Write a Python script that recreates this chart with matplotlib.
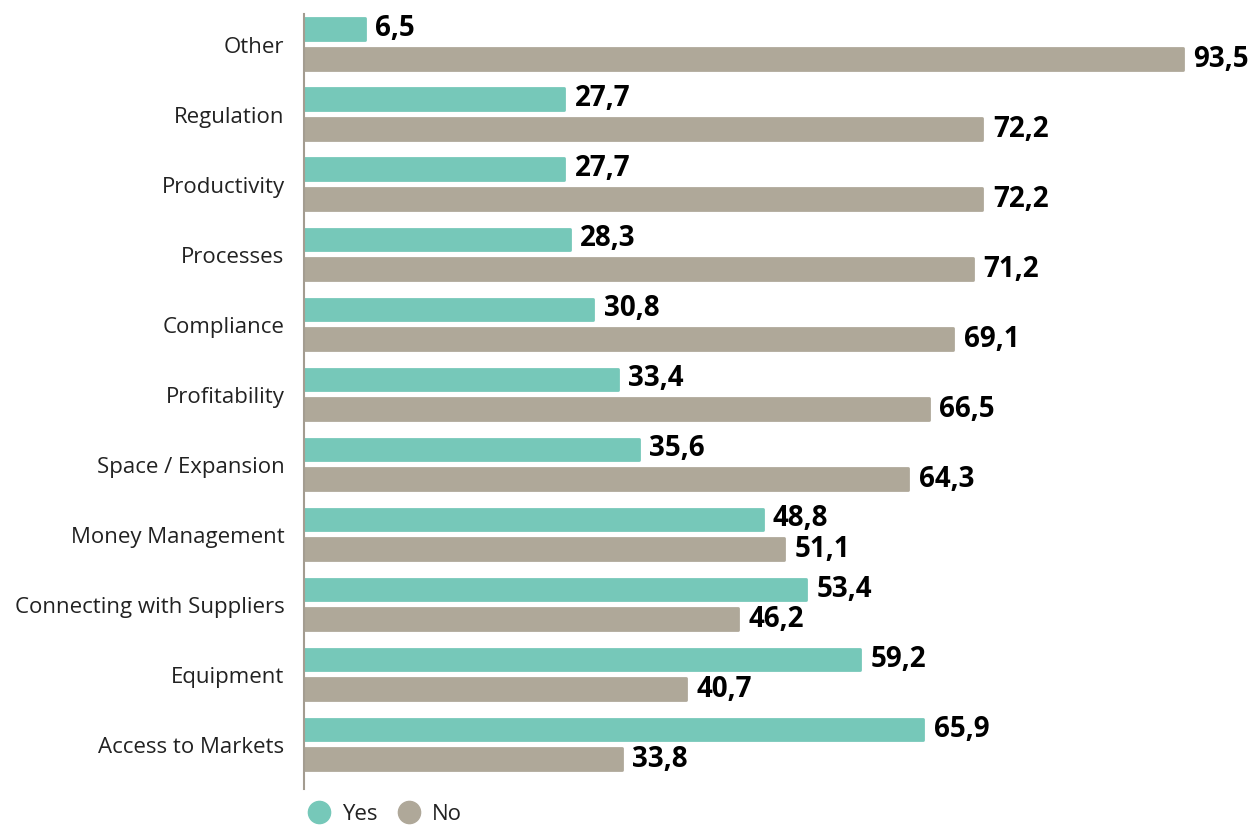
import numpy as np
import matplotlib.pyplot as plt
from matplotlib.lines import Line2D

categories = ["Other", "Regulation", "Productivity", "Processes", "Compliance",
              "Profitability", "Space / Expansion", "Money Management",
              "Connecting with Suppliers", "Equipment", "Access to Markets"]
yes_vals = [6.5, 27.7, 27.7, 28.3, 30.8, 33.4, 35.6, 48.8, 53.4, 59.2, 65.9]
no_vals = [93.5, 72.2, 72.2, 71.2, 69.1, 66.5, 64.3, 51.1, 46.2, 40.7, 33.8]

c_yes = "#76c8b9"
c_no = "#afa899"
axis_col = "#a39c90"

plt.rcParams['font.family'] = ['Open Sans', 'DejaVu Sans']

fig = plt.figure(figsize=(12.55, 8.29), dpi=100)
ax = fig.add_axes([304 / 1255, 1 - 790 / 829, 1 - 304 / 1255, (790 - 15) / 829])

y = np.arange(len(categories))
h = 0.31
off = 0.211

# bars, slightly rounded ends via round joins
ax.barh(y - off, yes_vals, height=h, color=c_yes, edgecolor=c_yes,
        linewidth=2, joinstyle='round')
ax.barh(y + off, no_vals, height=h, color=c_no, edgecolor=c_no,
        linewidth=2, joinstyle='round')

for i in range(len(categories)):
    ax.text(yes_vals[i] + 1.1, y[i] - off - 0.02, f"{yes_vals[i]:.1f}".replace(".", ","),
            va='center', ha='left', fontsize=20, fontweight='bold', color='black')
    ax.text(no_vals[i] + 1.1, y[i] + off - 0.01, f"{no_vals[i]:.1f}".replace(".", ","),
            va='center', ha='left', fontsize=20, fontweight='bold', color='black')

ax.set_xlim(0, 101.2)
ax.set_ylim(10.64, -0.43)
ax.set_yticks(y)
ax.set_yticklabels(categories, fontsize=16, color='#222222')
ax.tick_params(axis='y', length=0, pad=14)
ax.set_xticks([])
for s in ['top', 'right', 'bottom']:
    ax.spines[s].set_visible(False)
ax.spines['left'].set_color(axis_col)
ax.spines['left'].set_linewidth(1.5)
ax.spines['left'].set_zorder(5)

handles = [Line2D([], [], marker='o', ls='none', markersize=16, color=c_yes),
           Line2D([], [], marker='o', ls='none', markersize=16, color=c_no)]
fig.legend(handles, ["Yes", "No"], loc='center left', bbox_to_anchor=(288 / 1255, 1 - 815 / 829),
           ncol=2, frameon=False, fontsize=16, handletextpad=0.53, columnspacing=0.92,
           handlelength=1.0, labelcolor='#222222')

fig.savefig("out.png", dpi=100)
